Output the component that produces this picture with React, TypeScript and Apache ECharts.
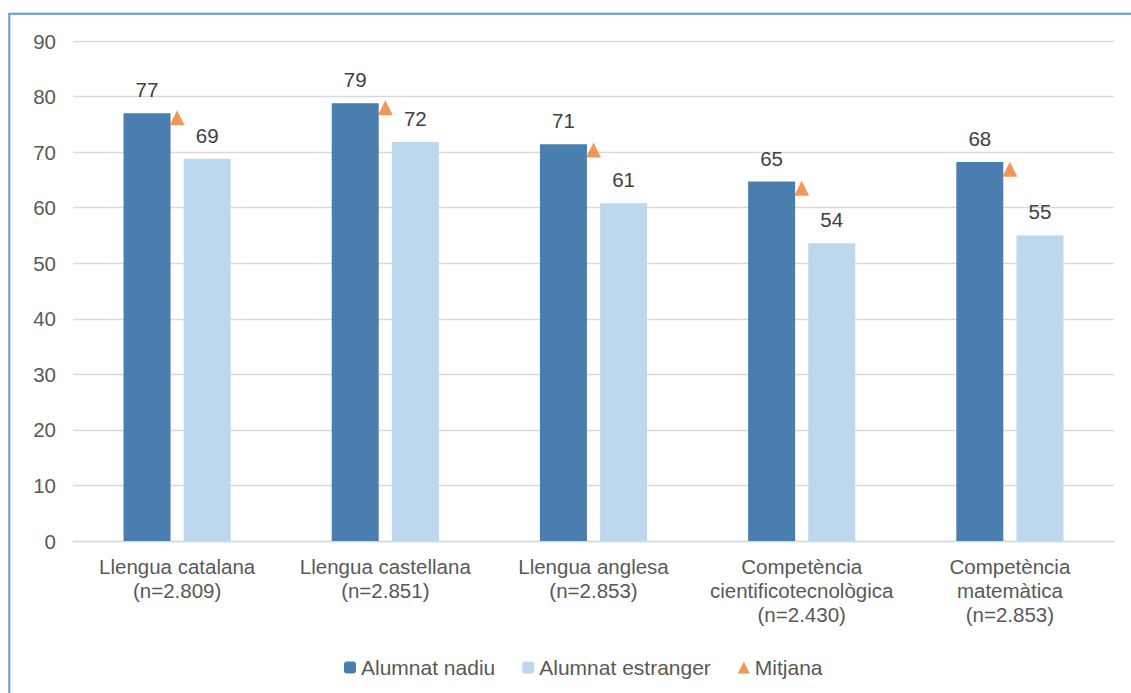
import React, { useEffect, useRef } from "react";
import * as echarts from "echarts";

const categories = [
  "Llengua catalana\n(n=2.809)",
  "Llengua castellana\n(n=2.851)",
  "Llengua anglesa\n(n=2.853)",
  "Competència\ncientificotecnològica\n(n=2.430)",
  "Competència\nmatemàtica\n(n=2.853)",
];
const alumnatNadiu = [77.0, 78.8, 71.4, 64.7, 68.2];
const alumnatEstranger = [68.8, 71.8, 60.8, 53.6, 55.0];
const mitjana = [76.2, 78.0, 70.4, 63.5, 66.9];
const seriesNames = ["Alumnat nadiu", "Alumnat estranger", "Mitjana"];

const FONT = "'Liberation Sans', Arial, sans-serif";

export default function App() {
  const ref = useRef<HTMLDivElement>(null);
  useEffect(() => {
    if (!ref.current) return;
    const chart = echarts.init(ref.current, null, { renderer: "svg" });
    const labelStyle = {
      show: true,
      position: "top" as const,
      distance: 13,
      color: "#404040",
      fontSize: 20.5,
      fontFamily: FONT,
      formatter: (p: any) => String(Math.round(p.value)),
    };
    chart.setOption({
      animation: false,
      backgroundColor: "#ffffff",
      textStyle: { fontFamily: FONT },
      graphic: [
        {
          type: "rect",
          shape: { x: 9.3, y: 13.7, width: 1300, height: 1000 },
          style: { fill: "none", stroke: "#5B9BD5", lineWidth: 2 },
          silent: true,
        },
      ],
      grid: { left: 73, right: 17, top: 41, bottom: 152, containLabel: false },
      legend: {
        data: seriesNames,
        left: 339,
        top: 652,
        itemWidth: 12,
        itemHeight: 12,
        itemGap: 27,
        textStyle: { color: "#595959", fontSize: 21, fontFamily: FONT },
      },
      xAxis: {
        type: "category",
        data: categories,
        axisLine: { lineStyle: { color: "#D9D9D9", width: 1.3 } },
        axisTick: { show: false },
        axisLabel: {
          color: "#595959",
          fontSize: 20.5,
          fontFamily: FONT,
          lineHeight: 24,
          margin: 13,
          interval: 0,
        },
      },
      yAxis: {
        type: "value",
        min: 0,
        max: 90,
        interval: 10,
        axisLine: { show: false },
        axisTick: { show: false },
        splitLine: { lineStyle: { color: "#D9D9D9", width: 1.3 } },
        axisLabel: { color: "#595959", fontSize: 20.5, fontFamily: FONT, margin: 17 },
      },
      series: [
        {
          name: seriesNames[0],
          type: "bar",
          data: alumnatNadiu,
          barWidth: 47,
          barGap: "28%",
          itemStyle: { color: "#4A7EAE" },
          label: labelStyle,
        },
        {
          name: seriesNames[1],
          type: "bar",
          data: alumnatEstranger,
          barWidth: 47,
          barGap: "28%",
          itemStyle: { color: "#BDD7EE" },
          label: labelStyle,
        },
        {
          name: seriesNames[2],
          type: "scatter",
          data: mitjana,
          symbol: "triangle",
          symbolSize: [15, 15],
          itemStyle: { color: "#ED7D31" },
          z: 5,
        },
      ],
    });
    return () => chart.dispose();
  }, []);
  return (
    <div
      ref={ref}
      style={{ position: "fixed", left: 0, top: 0, width: 1131, height: 693 }}
    />
  );
}
